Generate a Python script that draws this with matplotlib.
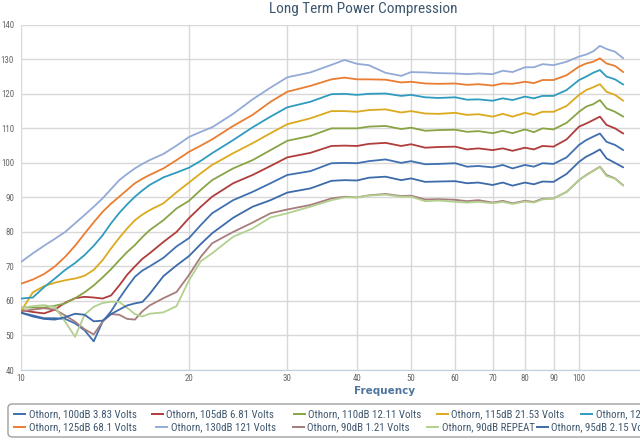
import matplotlib
matplotlib.use("Agg")
import matplotlib.pyplot as plt
from matplotlib import font_manager
from matplotlib.lines import Line2D
from matplotlib.patches import FancyBboxPatch
from matplotlib.ticker import NullLocator

# frequency points (Hz) shared by every series
freqs = [10, 10.5, 11, 11.5, 12, 12.5, 13, 13.5, 14, 14.5,
         15, 15.5, 16, 16.5, 17, 18, 19, 20, 21, 22,
         24, 26, 28, 30, 33, 36, 38, 40, 42, 45,
         48, 50, 53, 56, 60, 63, 66, 70, 73, 76,
         80, 83, 86, 90, 95, 100, 103, 106, 109, 112,
         116, 120]

spl_100 = [56.6, 55.8, 55.0, 55.0, 54.8, 53.5, 51.5, 48.3, 54.0, 57.0,
           60.7, 64.0, 67.0, 68.8, 70.0, 72.5, 75.8, 78.2, 82.0, 85.4,
           89.2, 91.6, 94.1, 96.5, 97.6, 99.9, 100.0, 99.9, 100.5, 101.0,
           100.0, 100.5, 99.6, 99.7, 99.9, 98.9, 99.1, 98.7, 99.4, 98.4,
           99.4, 98.9, 99.9, 99.7, 101.6, 105.2, 106.6, 107.6, 108.5, 106.1,
           105.2, 103.7]
spl_105 = [57.4, 56.8, 56.4, 57.5, 59.5, 60.8, 61.2, 61.0, 60.7, 61.6,
           64.5, 67.6, 70.0, 72.2, 73.8, 77.1, 80.0, 84.0, 87.3, 90.2,
           94.1, 96.5, 99.1, 101.6, 102.9, 104.9, 105.0, 104.9, 105.5, 105.8,
           104.9, 105.4, 104.4, 104.6, 104.7, 103.9, 104.2, 103.7, 104.2, 103.5,
           104.4, 103.9, 104.9, 104.7, 106.8, 110.5, 111.4, 112.4, 113.4, 111.0,
           110.0, 108.5]
spl_110 = [58.1, 58.1, 58.1, 58.6, 59.3, 60.8, 62.5, 64.5, 66.8, 69.2,
           71.8, 74.2, 76.2, 78.5, 80.5, 83.4, 86.8, 89.0, 92.2, 95.0,
           98.4, 100.8, 103.7, 106.4, 107.8, 110.0, 110.0, 110.0, 110.5, 110.7,
           109.8, 110.2, 109.3, 109.5, 109.6, 109.0, 109.2, 108.6, 109.3, 108.6,
           109.7, 108.9, 110.0, 109.7, 111.6, 114.8, 116.3, 117.0, 118.2, 115.8,
           114.8, 113.4]
spl_115 = [57.0, 62.5, 64.3, 65.3, 66.0, 66.5, 67.3, 69.0, 71.8, 75.2,
           78.3, 81.0, 83.4, 85.0, 86.3, 88.3, 91.5, 94.3, 97.0, 99.4,
           102.8, 105.7, 108.6, 111.2, 112.9, 115.0, 115.0, 114.8, 115.3, 115.5,
           114.6, 115.0, 114.3, 114.2, 114.5, 113.9, 114.1, 113.4, 114.2, 113.4,
           114.5, 113.9, 114.8, 114.8, 116.5, 119.7, 121.1, 121.9, 122.8, 120.6,
           119.7, 118.0]
spl_120 = [60.7, 61.0, 64.0, 66.5, 69.0, 71.0, 73.3, 76.0, 79.0, 82.5,
           85.5, 88.0, 90.2, 92.0, 93.6, 95.8, 97.2, 98.6, 100.6, 102.8,
           106.6, 110.3, 113.4, 116.1, 117.7, 119.9, 120.0, 119.7, 120.0, 120.1,
           119.4, 119.7, 119.0, 118.8, 119.0, 118.3, 118.4, 118.0, 118.7, 118.2,
           119.2, 118.7, 119.4, 119.4, 121.1, 124.0, 125.0, 126.1, 126.9, 125.0,
           124.2, 122.7]
spl_125 = [65.0, 66.2, 67.8, 70.0, 72.8, 76.0, 79.5, 82.8, 85.8, 88.2,
           90.2, 92.2, 94.1, 95.4, 96.5, 98.4, 100.8, 103.2, 105.0, 106.8,
           110.7, 113.9, 117.7, 120.6, 122.3, 124.2, 124.7, 124.2, 124.2, 124.1,
           123.3, 123.5, 123.0, 122.9, 123.0, 122.6, 122.8, 122.4, 123.0, 122.9,
           123.5, 123.1, 124.0, 124.0, 125.4, 127.9, 128.8, 129.3, 130.3, 128.8,
           128.1, 126.3]
spl_130 = [71.3, 73.8, 76.0, 78.0, 80.0, 82.5, 84.9, 87.3, 89.7, 92.4,
           95.0, 96.8, 98.4, 99.7, 100.8, 102.6, 105.0, 107.5, 109.0, 110.3,
           114.2, 118.4, 121.8, 124.8, 126.2, 128.4, 129.8, 128.7, 128.3, 126.1,
           125.2, 126.3, 126.2, 126.0, 125.9, 125.7, 125.9, 125.7, 126.7, 126.3,
           127.7, 127.7, 128.6, 128.3, 129.3, 130.8, 131.4, 132.3, 133.9, 133.0,
           132.2, 130.3]
spl_90 = [57.0, 57.5, 57.9, 57.5, 55.8, 54.0, 51.8, 50.3, 54.0, 56.2,
          56.0, 54.8, 54.6, 57.0, 58.7, 60.8, 62.6, 67.5, 72.8, 76.7,
          80.0, 82.7, 85.4, 86.5, 87.8, 89.7, 90.2, 90.0, 90.6, 91.0,
          90.4, 90.5, 89.4, 89.5, 89.3, 88.9, 89.2, 88.5, 89.0, 88.3,
          89.0, 88.7, 89.6, 89.7, 91.6, 95.0, 96.5, 97.7, 98.9, 96.5,
          95.5, 93.5]
spl_90r = [58.0, 58.5, 58.8, 58.2, 54.0, 49.6, 56.0, 58.3, 59.4, 59.8,
           59.7, 58.0, 56.2, 55.5, 56.3, 56.7, 58.5, 66.0, 71.5, 73.8,
           78.6, 81.0, 84.2, 85.4, 87.3, 89.2, 90.0, 90.0, 90.5, 90.8,
           90.2, 90.2, 88.9, 89.1, 88.7, 88.5, 88.7, 88.3, 88.7, 88.1,
           88.8, 88.5, 89.4, 89.7, 91.6, 95.0, 96.4, 97.6, 98.8, 96.2,
           95.4, 93.4]
spl_95 = [56.6, 55.5, 54.8, 54.6, 55.3, 56.3, 56.0, 54.1, 54.3, 56.2,
          57.5, 58.7, 59.3, 59.7, 62.0, 67.2, 70.3, 73.0, 76.5, 79.6,
          84.1, 87.3, 89.2, 91.4, 92.6, 94.8, 95.0, 94.9, 95.7, 96.0,
          95.0, 95.5, 94.5, 94.6, 94.7, 94.1, 94.3, 93.6, 94.3, 93.4,
          94.3, 93.8, 94.6, 94.5, 96.8, 100.3, 101.8, 102.8, 103.9, 101.3,
          100.0, 98.7]

labels = ["Othorn, 100dB 3.83 Volts", "Othorn, 105dB 6.81 Volts",
          "Othorn, 110dB 12.11 Volts", "Othorn, 115dB 21.53 Volts",
          "Othorn, 120dB 38.3 Volts", "Othorn, 125dB 68.1 Volts",
          "Othorn, 130dB 121 Volts", "Othorn, 90dB 1.21 Volts",
          "Othorn, 90dB REPEAT", "Othorn, 95dB 2.15 Volts"]
series = [spl_100, spl_105, spl_110, spl_115, spl_120,
          spl_125, spl_130, spl_90, spl_90r, spl_95]
colors = ["#4070b0", "#b03c3c", "#88a446", "#dcaa1e", "#2f9bbf",
          "#ea7d32", "#93aad6", "#a67c7c", "#b3d08f", "#3d6aa8"]

x_ticks = [10, 20, 30, 40, 50, 60, 70, 80, 90, 100]
y_ticks = list(range(40, 141, 10))

# prefer a condensed face when one is installed
names = {f.name for f in font_manager.fontManager.ttflist}
FONT = "Liberation Sans"
for cand in ["Liberation Sans Narrow", "DejaVu Sans Condensed", "Roboto Condensed"]:
    if cand in names:
        FONT = cand
        break
LEG_SIZE = 7.8 if FONT != "Liberation Sans" else 6.9

W, H = 640, 448
fig = plt.figure(figsize=(6.4, 4.48), dpi=100)
ax = fig.add_axes([21 / W, 1 - 370 / H, (640 - 21) / W, (370 - 24.8) / H])

for vals, color in zip(series, colors):
    ax.plot(freqs, vals, color=color, lw=1.3,
            solid_capstyle="round", solid_joinstyle="round")

ax.set_xscale("log")
ax.set_xlim(10, 128.6)
ax.set_ylim(40, 140)
ax.set_xticks(x_ticks)
ax.set_xticklabels([str(t) for t in x_ticks])
ax.xaxis.set_minor_locator(NullLocator())
ax.set_yticks(y_ticks)
ax.grid(True, color="#d8d8d8", lw=1)
ax.set_axisbelow(True)
for s in ["top", "right", "left"]:
    ax.spines[s].set_visible(False)
ax.spines["bottom"].set_color("#c0d0e0")
ax.tick_params(length=0, labelsize=6.4, labelcolor="#666666")
ax.tick_params(axis="y", pad=5)
ax.tick_params(axis="x", pad=3)
for lab in ax.get_xticklabels() + ax.get_yticklabels():
    lab.set_family(FONT)

fig.text(363 / W, 1 - 9 / H, "Long Term Power Compression", ha="center", va="center",
         fontsize=11, color="#3e576f", family=FONT)
fig.text(385 / W, 1 - 391 / H, "Frequency", ha="center", va="center",
         fontsize=7.5, fontweight="bold", color="#4d759e")

# legend, drawn by hand (items flow like the original, not in a grid)
fig.add_artist(FancyBboxPatch((8 / W, 1 - 437 / H), 660 / W, 33 / H,
                              boxstyle="round,pad=0,rounding_size=0.008",
                              transform=fig.transFigure, fc="none",
                              ec="#a0a0a0", lw=1))
leg_x = [14.3, 151.8, 293.9, 436.7, 581.2, 14.3, 156.3, 292.7, 427.3, 536.5]
leg_y = [414] * 5 + [427] * 5
for name, color, lx, ly in zip(labels, colors, leg_x, leg_y):
    fig.add_artist(Line2D([lx / W, (lx + 11) / W], [1 - ly / H, 1 - ly / H],
                          color=color, lw=1.4, transform=fig.transFigure))
    fig.text((lx + 14.5) / W, 1 - ly / H, name, ha="left", va="center",
             fontsize=LEG_SIZE, color="#3e576f", family=FONT)

fig.savefig("out.png", dpi=100)
